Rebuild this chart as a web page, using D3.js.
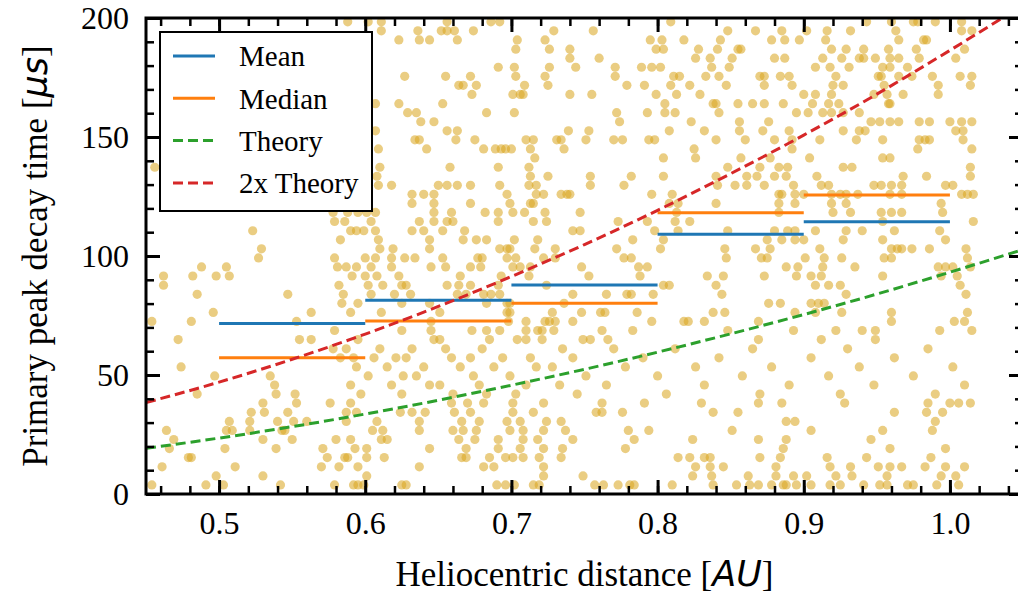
<!DOCTYPE html>
<html><head><meta charset="utf-8">
<script src="https://cdn.jsdelivr.net/npm/d3@7"></script>
<style>body{margin:0;background:#fff;} svg{display:block;}</style>
</head><body>
<svg id="chart" width="1018" height="595"></svg>
<script>
// ---------------- data ----------------
const binEdges = [0.5, 0.6, 0.7, 0.8, 0.9, 1.0];
const meanValues = [71.6, 81.4, 87.8, 109.1, 114.4];
const medianValues = [57.3, 72.7, 80.1, 118.2, 125.6];
const theoryDistances = [0.45, 0.50, 0.55, 0.60, 0.65, 0.70, 0.75, 0.80, 0.85, 0.90, 0.95, 1.00, 1.05];
const theoryValues = [19.2, 23.5, 28.3, 33.6, 39.4, 45.7, 52.4, 59.6, 67.3, 75.4, 84.0, 93.2, 102.7];
const doubleTheoryValues = [38.4, 47.0, 56.6, 67.2, 78.8, 91.4, 104.8, 119.2, 134.6, 150.8, 168.0, 186.4, 205.4];
const xTickValues = [0.5, 0.6, 0.7, 0.8, 0.9, 1.0];
const xTickLabels = ["0.5", "0.6", "0.7", "0.8", "0.9", "1.0"];
const yTickValues = [0, 50, 100, 150, 200];
const yTickLabels = ["0", "50", "100", "150", "200"];
const legendLabels = ["Mean", "Median", "Theory", "2x Theory"];
// scatter: [decay time (µs), [heliocentric distances (AU)]]
const scatterRows = [
 [198.4, [0.588,0.602,0.611,0.656,0.686,0.692,0.809,0.943,0.960,0.975,0.978,0.990,1.008]],
 [194.6, [0.611,0.636,0.652,0.656,0.661,0.674,0.729,0.756,0.848,0.867,0.885,0.902,0.916,0.932,0.963,1.008,1.015]],
 [190.8, [0.623,0.637,0.644,0.663,0.704,0.723,0.795,0.803,0.818,0.843,0.878,0.887,0.897,0.915,0.965,0.982,0.984]],
 [186.9, [0.703,0.726,0.740,0.799,0.804,0.828,0.841,0.855,0.857,0.919,0.929,0.941,0.958,0.977,1.010]],
 [183.1, [0.740,0.760,0.826,0.836,0.851,0.880,0.887,0.913,0.926,0.938,0.941,0.949,0.959,0.965,0.979,1.004]],
 [179.3, [0.691,0.702,0.726,0.744,0.771,0.789,0.796,0.802,0.837,0.849,0.908,0.918,0.931,0.954,0.959,0.971]],
 [175.5, [0.627,0.655,0.672,0.703,0.723,0.771,0.811,0.815,0.833,0.842,0.870,0.873,0.884,0.890,0.922,0.951,0.953,0.965,0.974,0.988,1.007,1.015]],
 [171.7, [0.664,0.667,0.676,0.709,0.725,0.779,0.791,0.809,0.822,0.847,0.873,0.892,0.920,0.927,0.955,0.992,1.014]],
 [167.9, [0.673,0.701,0.706,0.708,0.740,0.755,0.799,0.813,0.829,0.900,0.908,0.919,0.948,0.957,0.968,0.992]],
 [164.0, [0.607,0.623,0.653,0.805,0.838,0.840,0.855,0.865,0.873,0.886,0.906,0.917,0.924,0.958,0.959]],
 [160.2, [0.629,0.635,0.683,0.702,0.772,0.793,0.805,0.812,0.842,0.895,0.903,0.913,0.919,0.927,0.938]],
 [156.4, [0.638,0.647,0.774,0.823,0.856,0.876,0.946,0.952,0.959,0.965,0.979,0.986,1.000,1.008,1.015]],
 [152.6, [0.607,0.656,0.663,0.739,0.753,0.808,0.832,0.856,0.872,0.890,0.927,0.938,0.942,1.004,1.009]],
 [148.8, [0.634,0.637,0.662,0.675,0.710,0.715,0.731,0.734,0.751,0.770,0.776,0.794,0.798,0.840,0.860,0.880,0.892,0.911,0.936,0.954,0.979,0.983,0.986,1.009]],
 [145.0, [0.609,0.642,0.681,0.689,0.693,0.696,0.700,0.713,0.736,0.825,0.892,0.978,1.015]],
 [141.2, [0.716,0.804,0.826,0.857,0.877,0.904,0.954,0.959]],
 [137.3, [0.456,0.610,0.658,0.691,0.712,0.848,0.870,0.883,0.889,0.927,0.933,1.014]],
 [133.5, [0.608,0.713,0.725,0.754,0.782,0.804,0.840,0.861,0.868,0.880,0.888,0.909,0.968,0.984,1.014]],
 [129.7, [0.609,0.618,0.650,0.656,0.663,0.672,0.692,0.712,0.717,0.754,0.777,0.841,0.853,0.861,0.873,0.893,0.912,0.917,0.948,0.953,0.960,0.967,0.997,1.002]],
 [125.9, [0.632,0.640,0.647,0.697,0.717,0.722,0.734,0.738,0.740,0.796,0.810,0.883,0.885,0.894,0.900,0.919,0.925,0.929,0.937,0.959,0.967,1.008,1.012,1.016]],
 [122.1, [0.632,0.647,0.672,0.699,0.713,0.715,0.808,0.814,0.840,0.883,0.894,0.919,0.929,0.994]],
 [118.3, [0.578,0.588,0.595,0.601,0.607,0.647,0.659,0.682,0.691,0.701,0.709,0.723,0.747,0.813,0.883,0.920,0.932,0.953,0.960,0.967,0.995]],
 [114.5, [0.579,0.586,0.604,0.637,0.647,0.656,0.660,0.691,0.715,0.724,0.773,0.793,0.812,0.822,0.954,1.016]],
 [110.6, [0.523,0.590,0.594,0.599,0.607,0.632,0.640,0.653,0.668,0.742,0.747,0.798,0.814,0.848,0.880,0.889,0.894,0.908,0.929,0.940,0.962,0.993]],
 [106.8, [0.583,0.609,0.644,0.667,0.676,0.683,0.702,0.718,0.783,0.804,0.875,0.885,0.894,0.900,0.927,0.954,0.997]],
 [103.0, [0.529,0.610,0.619,0.644,0.692,0.697,0.699,0.716,0.730,0.772,0.802,0.846,0.867,0.877,0.911,0.960,0.964,0.967,0.974,0.986,1.011]],
 [99.2,  [0.527,0.579,0.600,0.607,0.618,0.627,0.634,0.653,0.677,0.680,0.697,0.703,0.722,0.730,0.777,0.782,0.847,0.871,0.875,0.901,0.914,0.926,0.955,0.960,1.012]],
 [95.4,  [0.488,0.505,0.581,0.587,0.594,0.604,0.618,0.645,0.655,0.672,0.679,0.701,0.706,0.713,0.748,0.787,0.793,0.888,0.896,0.913,0.935,0.992,0.997,1.002,1.014]],
 [91.6,  [0.462,0.482,0.498,0.507,0.591,0.600,0.608,0.623,0.665,0.693,0.712,0.753,0.788,0.834,0.845,0.873,0.895,0.905,0.912,0.954,0.994,1.005]],
 [87.7,  [0.462,0.582,0.602,0.612,0.625,0.628,0.656,0.664,0.672,0.691,0.724,0.804,0.808,0.840,0.908,0.917,0.925,1.007]],
 [83.9,  [0.485,0.547,0.585,0.604,0.620,0.631,0.663,0.669,0.681,0.686,0.692,0.742,0.765,0.779,0.782,0.797,0.844,0.929,1.011]],
 [80.1,  [0.584,0.595,0.625,0.644,0.683,0.697,0.699,0.736,0.876,0.884,0.905,0.910,0.914]],
 [76.3,  [0.496,0.563,0.590,0.611,0.651,0.697,0.699,0.728,0.748,0.761,0.764,0.786,0.838,0.846,0.894,0.908,0.926,0.960,1.012]],
 [72.5,  [0.454,0.481,0.553,0.645,0.698,0.710,0.723,0.726,0.730,0.742,0.796,0.818,0.821,0.832,0.869,0.960,1.003,1.010]],
 [68.7,  [0.579,0.625,0.645,0.673,0.683,0.692,0.710,0.718,0.721,0.729,0.762,0.783,0.848,0.893,0.922,0.940,0.949,0.993,1.015]],
 [64.9,  [0.472,0.555,0.563,0.595,0.647,0.651,0.685,0.704,0.710,0.721,0.749,0.754,0.766,0.869,0.912,0.949]],
 [61.0,  [0.578,0.587,0.610,0.632,0.655,0.680,0.735,0.770,0.812,0.865,0.930,0.985]],
 [57.2,  [0.583,0.592,0.606,0.621,0.628,0.659,0.672,0.694,0.713,0.742,0.790,0.842,0.905,0.962]],
 [53.4,  [0.474,0.594,0.615,0.640,0.665,0.688,0.717,0.728,0.778,0.826,0.878,0.938,1.002]],
 [49.6,  [0.497,0.535,0.602,0.626,0.635,0.674,0.699,0.751,0.800,0.858,0.917,0.975]],
 [45.8,  [0.538,0.590,0.618,0.644,0.651,0.678,0.710,0.733,0.765,0.832,0.890,0.948,1.010]],
 [42.0,  [0.485,0.539,0.552,0.597,0.625,0.660,0.683,0.703,0.745,0.806,0.870,0.925,0.990]],
 [38.2,  [0.530,0.553,0.576,0.590,0.659,0.670,0.681,0.701,0.722,0.762,0.791,0.830,0.869,0.885,0.928,0.985,1.000,1.006,1.014]],
 [34.3,  [0.522,0.531,0.547,0.587,0.594,0.624,0.632,0.641,0.661,0.672,0.701,0.715,0.758,0.762,0.776,0.838,0.855,0.962,0.984,0.995]],
 [30.5,  [0.507,0.521,0.540,0.551,0.560,0.587,0.608,0.637,0.666,0.678,0.697,0.706,0.724,0.734,0.888,0.894,0.990]],
 [26.7,  [0.464,0.505,0.509,0.521,0.543,0.545,0.605,0.612,0.637,0.660,0.667,0.676,0.699,0.708,0.722,0.737,0.780,0.794,0.851,0.905,0.954,0.988]],
 [22.9,  [0.469,0.530,0.550,0.580,0.590,0.611,0.615,0.664,0.675,0.691,0.708,0.718,0.742,0.784,0.824,0.869,0.888,0.946]],
 [19.1,  [0.466,0.504,0.539,0.571,0.593,0.601,0.644,0.669,0.691,0.706,0.722,0.735,0.778,0.886,0.959,0.997]],
 [15.3,  [0.479,0.481,0.574,0.586,0.588,0.601,0.613,0.666,0.669,0.685,0.696,0.701,0.708,0.719,0.734,0.814,0.822,0.832,0.836,0.870,0.884,0.916,0.943,0.987]],
 [11.4,  [0.461,0.511,0.570,0.582,0.595,0.637,0.681,0.688,0.722,0.826,0.836,0.845,0.881,0.918,0.932,0.951,0.959,0.967,0.983,0.997,1.010]],
 [7.6,   [0.498,0.530,0.601,0.722,0.749,0.824,0.837,0.862,0.881,0.893,0.902,0.922,0.933,0.957,0.994,1.004]],
 [3.8,   [0.454,0.491,0.503,0.542,0.579,0.592,0.595,0.599,0.625,0.628,0.690,0.696,0.702,0.715,0.719,0.757,0.763,0.773,0.781,0.784,0.810,0.838,0.854,0.863,0.869,0.878,0.886,0.888,0.895,0.905,0.918,0.925,0.941,0.952,0.957,0.971,0.975,0.991,1.006]]
];

// ---------------- drawing ----------------
const svg = d3.select("#chart");
const L = 146, R = 1023, T = 18, B = 494;
const x = d3.scaleLinear().domain([0.45, 1.05]).range([L, R]);
const y = d3.scaleLinear().domain([0, 200]).range([B, T]);
const serif = "'Liberation Serif','Times New Roman',serif";
const mathFont = "'DejaVu Sans',sans-serif";

svg.append("defs").append("clipPath").attr("id", "plotclip")
  .append("rect").attr("x", L).attr("y", T).attr("width", R - L).attr("height", B - T);

const plot = svg.append("g").attr("clip-path", "url(#plotclip)");

const points = scatterRows.flatMap(([t, xs]) => xs.map(d => ({ d, t })));
plot.append("g").selectAll("circle").data(points).join("circle")
  .attr("cx", p => x(p.d)).attr("cy", p => y(p.t)).attr("r", 4.6)
  .attr("fill", "#DAA520").attr("fill-opacity", 0.56);

const bins = meanValues.map((v, i) => ({ x0: binEdges[i], x1: binEdges[i + 1], mean: v, median: medianValues[i] }));
plot.append("g").selectAll("line").data(bins).join("line")
  .attr("x1", b => x(b.x0)).attr("x2", b => x(b.x1))
  .attr("y1", b => y(b.mean)).attr("y2", b => y(b.mean))
  .attr("stroke", "#1f77b4").attr("stroke-width", 3);
plot.append("g").selectAll("line").data(bins).join("line")
  .attr("x1", b => x(b.x0)).attr("x2", b => x(b.x1))
  .attr("y1", b => y(b.median)).attr("y2", b => y(b.median))
  .attr("stroke", "#ff7f0e").attr("stroke-width", 3);

const lineGen = vals => d3.line().curve(d3.curveMonotoneX)
  .x((d, i) => x(theoryDistances[i])).y(d => y(d))(vals);
plot.append("path").attr("d", lineGen(theoryValues)).attr("fill", "none")
  .attr("stroke", "#2ca02c").attr("stroke-width", 3).attr("stroke-dasharray", "10,5");
plot.append("path").attr("d", lineGen(doubleTheoryValues)).attr("fill", "none")
  .attr("stroke", "#d62728").attr("stroke-width", 3).attr("stroke-dasharray", "10,5");

// axes (ticks inward on all four sides)
function styleAxis(g, major) {
  g.select(".domain").remove();
  g.selectAll(".tick line").attr("stroke", "#000").attr("stroke-width", major ? 3 : 2.5);
  g.selectAll("text").attr("font-family", serif).attr("font-size", 32).attr("fill", "#000");
}
const xMinor = x.ticks(30), yMinor = y.ticks(20);
const axes = [
  [d3.axisBottom(x), `translate(0,${B})`, xTickValues, xMinor, (d, i) => xTickLabels[i]],
  [d3.axisTop(x), `translate(0,${T})`, xTickValues, xMinor, () => ""],
  [d3.axisLeft(y), `translate(${L},0)`, yTickValues, yMinor, (d, i) => yTickLabels[i]],
  [d3.axisRight(y), `translate(${R},0)`, yTickValues, yMinor, () => ""]
];
axes.forEach(([ax, tr, majors, minors, fmt]) => {
  const gMin = svg.append("g").attr("transform", tr)
    .call(ax.tickValues(minors).tickFormat(() => "").tickSizeInner(-8).tickSizeOuter(0));
  styleAxis(gMin, false);
  const gMaj = svg.append("g").attr("transform", tr)
    .call(ax.tickValues(majors).tickFormat(fmt).tickSizeInner(-14).tickSizeOuter(0).tickPadding(17));
  styleAxis(gMaj, true);
});

svg.append("rect").attr("x", L).attr("y", T).attr("width", R - L).attr("height", B - T)
  .attr("fill", "none").attr("stroke", "#000").attr("stroke-width", 3);

// axis titles
const xt = svg.append("text").attr("x", (L + R) / 2).attr("y", 586).attr("text-anchor", "middle")
  .attr("font-family", serif).attr("font-size", 35).attr("fill", "#000");
xt.append("tspan").text("Heliocentric distance [");
xt.append("tspan").attr("font-family", mathFont).attr("font-style", "italic").text("AU");
xt.append("tspan").text("]");

const yt = svg.append("text").attr("transform", `translate(47,${(T + B) / 2}) rotate(-90)`)
  .attr("text-anchor", "middle").attr("font-family", serif).attr("font-size", 35).attr("fill", "#000");
yt.append("tspan").text("Primary peak decay time [");
yt.append("tspan").attr("font-family", mathFont).attr("font-style", "italic").text("\u03bcs");
yt.append("tspan").text("]");

// legend
const leg = svg.append("g");
leg.append("rect").attr("x", 160).attr("y", 32).attr("width", 212).attr("height", 179)
  .attr("fill", "#fff").attr("stroke", "#000").attr("stroke-width", 2);
const legendStyles = [
  { c: "#1f77b4", dash: null }, { c: "#ff7f0e", dash: null },
  { c: "#2ca02c", dash: "10,5" }, { c: "#d62728", dash: "10,5" }
];
legendLabels.forEach((lab, i) => {
  const cy = 56 + i * 42.3;
  leg.append("line").attr("x1", 173).attr("x2", 215).attr("y1", cy).attr("y2", cy)
    .attr("stroke", legendStyles[i].c).attr("stroke-width", 3)
    .attr("stroke-dasharray", legendStyles[i].dash);
  leg.append("text").attr("x", 239).attr("y", cy).attr("dy", "0.36em")
    .attr("font-family", serif).attr("font-size", 29).attr("fill", "#000").text(lab);
});
</script>
</body></html>
